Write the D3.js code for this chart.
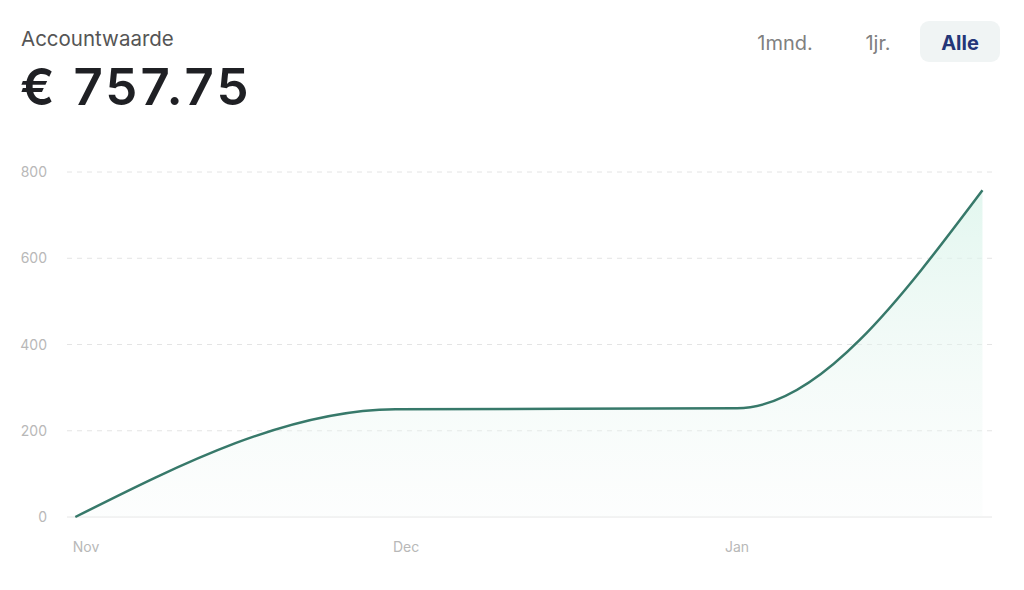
<!DOCTYPE html>
<html><head><meta charset="utf-8">
<script src="https://cdn.jsdelivr.net/npm/d3@7"></script>
<style>
body{margin:0;background:#fff;font-family:Inter,"Noto Sans",sans-serif;}
</style></head>
<body><svg id="c" width="1024" height="590"></svg>
<script>
const dates = ["2023-10-31","2023-11-30","2024-01-01","2024-01-24"];
const values = [0, 250, 252, 757.75];
const yTicks = [0, 200, 400, 600, 800];
const xTickDates = ["2023-11-01","2023-12-01","2024-01-01"];
const xTickLabels = ["Nov","Dec","Jan"];
const ranges = ["1mnd.","1jr.","Alle"];
const title = "Accountwaarde";
const total = "€ 757.75";

const parse = d3.timeParse("%Y-%m-%d");
const data = dates.map((d,i)=>({date:parse(d), value:values[i]}));
const svg = d3.select("#c");

svg.append("text").attr("x",21).attr("y",46).attr("font-size",20.5).attr("fill","#555")
  .attr("font-family","Inter, sans-serif").text(title);
svg.append("text").attr("x",20).attr("y",105).attr("font-size",51).attr("font-weight",600)
  .attr("fill","#1f2024").attr("font-family","Inter, sans-serif").attr("letter-spacing",3).text(total);

// range buttons
svg.append("rect").attr("x",920).attr("y",21).attr("width",80).attr("height",41).attr("rx",9).attr("fill","#f0f4f4");
const btnX = [785, 878, 960];
ranges.forEach((r,i)=>{
  svg.append("text").attr("x",btnX[i]).attr("y",50).attr("text-anchor","middle")
    .attr("font-size",20).attr("font-weight", i===2?700:400)
    .attr("fill", i===2?"#243678":"#808080").attr("font-family","Inter, sans-serif").text(r);
});

const x = d3.scaleTime().domain([parse(xTickDates[0]), parse(xTickDates[2])]).range([86, 737]);
const y = d3.scaleLinear().domain([0,800]).range([517,172]);

// grid
const g = svg.append("g");
yTicks.forEach(t=>{
  g.append("line").attr("x1",67).attr("x2",992).attr("y1",y(t)).attr("y2",y(t))
    .attr("stroke", t===0?"#e6e6e6":"#e4e4e4").attr("stroke-width",1)
    .attr("stroke-dasharray", t===0?null:"5,5");
  g.append("text").attr("x",47).attr("y",y(t)+5).attr("text-anchor","end")
    .attr("font-size",14).attr("fill","#b8b8b8").attr("font-family","Inter, sans-serif").text(t);
});
xTickDates.forEach((d,i)=>{
  g.append("text").attr("x",x(parse(d))).attr("y",552).attr("text-anchor","middle")
    .attr("font-size",14).attr("fill","#b8b8b8").attr("font-family","Inter, sans-serif").text(xTickLabels[i]);
});

const defs = svg.append("defs");
const grad = defs.append("linearGradient").attr("id","ag").attr("x1",0).attr("y1",0).attr("x2",0).attr("y2",1);
grad.append("stop").attr("offset","0%").attr("stop-color","#d9f4ea").attr("stop-opacity",0.75);
grad.append("stop").attr("offset","100%").attr("stop-color","#eef6f3").attr("stop-opacity",0.15);

const area = d3.area().curve(d3.curveMonotoneX).x(d=>x(d.date)).y0(y(0)).y1(d=>y(d.value));
const line = d3.line().curve(d3.curveMonotoneX).x(d=>x(d.date)).y(d=>y(d.value));
svg.append("path").datum(data).attr("d",area).attr("fill","url(#ag)");
svg.append("path").datum(data).attr("d",line).attr("fill","none").attr("stroke","#37796a").attr("stroke-width",2.5);
</script></body></html>
